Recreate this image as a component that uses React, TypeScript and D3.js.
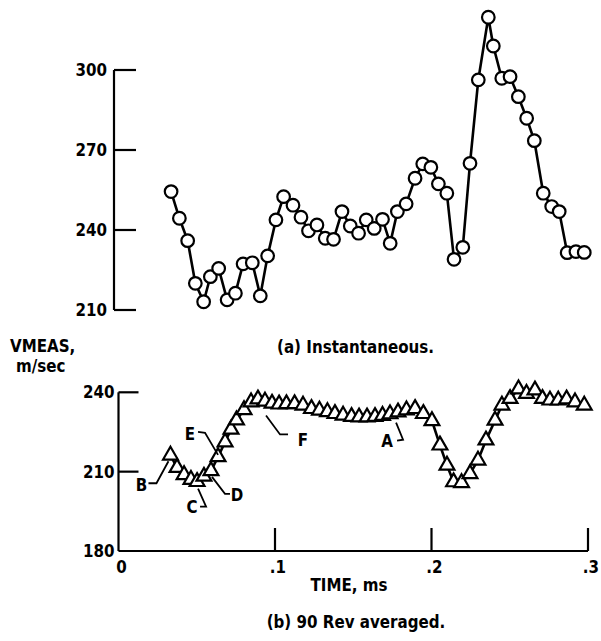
import React from "react";
import * as d3 from "d3";

// ---- data ----
const instTime = [0.0336,0.0389,0.0442,0.0491,0.0544,0.0587,0.0640,0.0694,0.0747,0.0796,0.0855,0.0906,0.0953,0.1006,0.1055,0.1115,0.1166,0.1214,0.1268,0.1321,0.1374,0.1428,0.1481,0.1534,0.1583,0.1634,0.1687,0.1736,0.1782,0.1838,0.1895,0.1944,0.1996,0.2044,0.2098,0.2144,0.2200,0.2246,0.2299,0.2363,0.2395,0.2449,0.2502,0.2555,0.2608,0.2657,0.2714,0.2768,0.2816,0.2867,0.2923,0.2976];
const instV = [254.4,244.4,236.0,220.0,213.1,222.5,225.6,213.8,216.3,227.3,227.7,215.3,230.3,243.8,252.5,249.3,244.8,239.7,241.9,236.9,236.5,246.9,241.5,238.8,243.8,240.6,244.0,235.0,246.9,249.8,259.4,264.8,263.5,257.3,253.8,229.0,233.5,265.0,296.3,319.8,309.0,296.9,297.5,290.0,281.9,273.5,253.8,248.8,246.9,231.5,231.9,231.6];

const avgTime = [0.0332,0.0374,0.0419,0.0463,0.0502,0.0546,0.0591,0.0636,0.0681,0.0719,0.0754,0.0802,0.0847,0.0891,0.0936,0.0981,0.1026,0.1073,0.1125,0.1179,0.1233,0.1284,0.1335,0.1383,0.1435,0.1489,0.1537,0.1588,0.1639,0.1687,0.1735,0.1786,0.1840,0.1895,0.1948,0.2003,0.2054,0.2099,0.2141,0.2192,0.2246,0.2297,0.2348,0.2406,0.2450,0.2502,0.2556,0.2607,0.2661,0.2709,0.2757,0.2810,0.2863,0.2917,0.2976];
const avgV = [216.2,211.5,208.8,207.0,206.2,208.2,210.3,215.6,221.2,226.0,229.5,233.4,236.3,237.4,236.6,235.8,235.5,235.6,235.6,235.1,233.8,233.2,232.6,231.9,231.3,230.8,230.6,230.6,230.8,231.2,231.8,232.5,233.3,233.8,231.9,229.2,220.0,212.4,206.1,205.8,209.2,214.3,221.9,229.4,235.1,237.6,241.2,239.5,240.8,237.6,237.0,237.0,237.4,236.3,235.1];

const topYTicks = [210, 240, 270, 300];
const botYTicks = [180, 210, 240];
const xTicks = [0, 0.1, 0.2, 0.3];
const xTickLabels = ["0", ".1", ".2", ".3"];

// annotation letters: target point index in avg series
const annLetters = ["B", "C", "D", "E", "F", "A"];
const annIndex = [0, 4, 6, 7, 15, 33];

const FONT = "'DejaVu Sans', sans-serif";

function T({ x, y, anchor = "start", children }: { x: number; y: number; anchor?: string; children: React.ReactNode }) {
  return (
    <text
      transform={`translate(${x},${y}) scale(0.84,1)`}
      textAnchor={anchor}
      fontFamily={FONT}
      fontWeight="bold"
      fontSize={18}
    >
      {children}
    </text>
  );
}

export default function App() {
  const x = d3.scaleLinear().domain([0, 0.3]).range([118.5, 588]);
  const yT = d3.scaleLinear().domain([210, 300]).range([310, 70]);
  const yB = d3.scaleLinear().domain([180, 240]).range([551, 392.3]);
  const topAxisX = 114;

  const lineT = d3.line<number>().x((_, i) => x(instTime[i])).y((d) => yT(d));
  const lineB = d3.line<number>().x((_, i) => x(avgTime[i])).y((d) => yB(d));
  const tri = d3.symbol().type(d3.symbolTriangle).size(95)()!;

  // leader geometry relative to target point (pixel offsets)
  const annLayout: Record<string, { lx: number; ly: number; path: [number, number][] }> = {
    B: { lx: -29, ly: 36, path: [[-22, 28], [-14, 28], [-2, 6]] },
    C: { lx: -5, ly: 31, path: [[3, 25], [9, 25], [1, 7]] },
    D: { lx: 26, ly: 30, path: [[19, 23], [14, 23], [1, 6]] },
    E: { lx: -28, ly: -17, path: [[-20, -25], [-13, -24], [0, -2]] },
    F: { lx: 31, ly: 43, path: [[-6, 12], [8, 31], [16, 31]] },
    A: { lx: -28, ly: 38, path: [[-19, 14], [-12, 31], [-18, 32]] },
  };

  return (
    <svg width={601} height={641} style={{ position: "absolute", left: 0, top: 0, background: "#fff" }}>
      <rect width={601} height={641} fill="#fff" />
      {/* ---- top chart ---- */}
      <g stroke="#000" strokeWidth={2.2} fill="none">
        <line x1={topAxisX} x2={topAxisX} y1={yT(300)} y2={yT(210)} />
        {topYTicks.map((t) => (
          <line key={t} x1={topAxisX} x2={topAxisX + 22} y1={yT(t)} y2={yT(t)} />
        ))}
      </g>
      {topYTicks.map((t) => (
        <T key={t} x={topAxisX - 7} y={yT(t) + 6} anchor="end">
          {t}
        </T>
      ))}
      <path d={lineT(instV)!} fill="none" stroke="#000" strokeWidth={2.6} />
      {instV.map((v, i) => (
        <circle key={i} cx={x(instTime[i])} cy={yT(v)} r={6.3} fill="#fff" stroke="#000" strokeWidth={2.2} />
      ))}

      {/* ---- labels ---- */}
      <T x={10} y={352}>VMEAS,</T>
      <T x={16} y={372}>m/sec</T>
      <T x={277} y={353}>(a) Instantaneous.</T>

      {/* ---- bottom chart ---- */}
      <g stroke="#000" strokeWidth={2.2} fill="none">
        <line x1={x(0)} x2={x(0)} y1={yB(240)} y2={yB(180)} />
        <line x1={x(0)} x2={x(0.3)} y1={yB(180)} y2={yB(180)} />
        {botYTicks.slice(1).map((t) => (
          <line key={t} x1={x(0)} x2={x(0) + 20} y1={yB(t)} y2={yB(t)} />
        ))}
        {xTicks.slice(1).map((t) => (
          <line key={t} x1={x(t)} x2={x(t)} y1={yB(180)} y2={yB(180) - 23} />
        ))}
      </g>
      {botYTicks.map((t) => (
        <T key={t} x={x(0) - 4} y={yB(t) + 6} anchor="end">
          {t}
        </T>
      ))}
      {xTicks.map((t, i) => (
        <T key={t} x={x(t) + 3} y={yB(180) + 22} anchor="middle">
          {xTickLabels[i]}
        </T>
      ))}
      <path d={lineB(avgV)!} fill="none" stroke="#000" strokeWidth={2.6} />
      {avgV.map((v, i) => (
        <path key={i} d={tri} transform={`translate(${x(avgTime[i])},${yB(v)})`} fill="#fff" stroke="#000" strokeWidth={2.2} />
      ))}
      {annLetters.map((L, k) => {
        const px = x(avgTime[annIndex[k]]);
        const py = yB(avgV[annIndex[k]]);
        const a = annLayout[L];
        const d = d3.line()(a.path.map(([dx, dy]) => [px + dx, py + dy] as [number, number]))!;
        return (
          <g key={L}>
            <path d={d} fill="none" stroke="#000" strokeWidth={1.8} />
            <T x={px + a.lx} y={py + a.ly} anchor="middle">
              {L}
            </T>
          </g>
        );
      })}
      <T x={349} y={591} anchor="middle">TIME,  ms</T>
      <T x={356} y={628} anchor="middle">(b) 90 Rev averaged.</T>
    </svg>
  );
}
